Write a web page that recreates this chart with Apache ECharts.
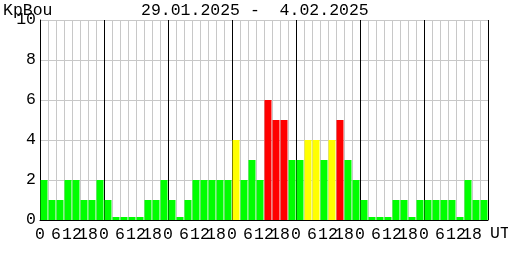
<!DOCTYPE html>
<html><head><meta charset="utf-8">
<script src="https://cdn.jsdelivr.net/npm/echarts@6/dist/echarts.min.js"></script>
<style>html,body{margin:0;padding:0;background:#fff}#c{width:508px;height:260px}</style>
</head><body><div id="c"></div>
<script>
// 3-hour Kp index values, 8 per day, 29.01.2025 - 4.02.2025
const kpValues = [
  2,1,1,2,2,1,1,2,
  1,0.15,0.15,0.15,0.15,1,1,2,
  1,0.15,1,2,2,2,2,2,
  4,2,3,2,6,5,5,3,
  3,4,4,3,4,5,3,2,
  1,0.15,0.15,0.15,1,1,0.15,1,
  1,1,1,1,0.15,2,1,1
];
const slots = kpValues.map((v, i) => String(i));
const hourTicks = [0, 6, 12, 18];
const yTicks = [0, 2, 4, 6, 8, 10];
const titleText = '29.01.2025 -  4.02.2025';
const yName = 'KpBou';
const unitText = 'UT';

function barColor(v) { return v >= 5 ? '#ff0000' : (v >= 4 ? '#ffff00' : '#00ff00'); }
const font = 'Liberation Mono';
const chart = echarts.init(document.getElementById('c'), null, {renderer: 'canvas'});
chart.setOption({
  animation: false,
  backgroundColor: '#fff',
  grid: {left: 40, right: 20, top: 20, bottom: 40, containLabel: false},
  graphic: [
    {type: 'text', left: 3, top: 2, style: {text: yName, font: '16.5px "' + font + '"', fill: '#000'}},
    {type: 'text', left: 141, top: 2, style: {text: titleText, font: '16.5px "' + font + '"', fill: '#000'}},
    {type: 'text', left: 490, top: 225, style: {text: unitText, font: '16.5px "' + font + '"', fill: '#000'}}
  ],
  xAxis: [
    {type: 'category', data: slots, boundaryGap: true,
     axisLine: {show: false}, axisTick: {show: false}, axisLabel: {show: false},
     splitLine: {show: true, interval: 0, lineStyle: {width: 1, color: ['#000','#c8c8c8','#c8c8c8','#c8c8c8','#c8c8c8','#c8c8c8','#c8c8c8','#c8c8c8']}}},
    {type: 'value', min: 0, max: 168, interval: 6, position: 'bottom',
     axisLine: {show: true, onZero: false, lineStyle: {color: '#000', width: 1}},
     axisTick: {show: false}, splitLine: {show: false},
     axisLabel: {show: true, margin: 6, color: '#000', fontFamily: font, fontSize: 16.5, showMaxLabel: true,
       formatter: function (v) { if (v >= 168) return ''; const h = v % 24; return hourTicks.indexOf(h) >= 0 ? String(h) : ''; }}}
  ],
  yAxis: {type: 'value', min: 0, max: 10, interval: 2,
    axisLine: {show: true, lineStyle: {color: '#000', width: 1}}, axisTick: {show: false},
    splitLine: {show: true, lineStyle: {color: '#c8c8c8', width: 1}},
    axisLabel: {color: '#000', fontFamily: font, fontSize: 16.5, margin: 4,
      formatter: function (v) { return yTicks.indexOf(v) >= 0 ? String(v) : ''; }}},
  series: [{
    type: 'bar', xAxisIndex: 0, barWidth: 7, barGap: '0%',
    data: kpValues.map(v => ({value: v, itemStyle: {color: barColor(v)}})),
    z: 1
  }]
});
</script></body></html>
